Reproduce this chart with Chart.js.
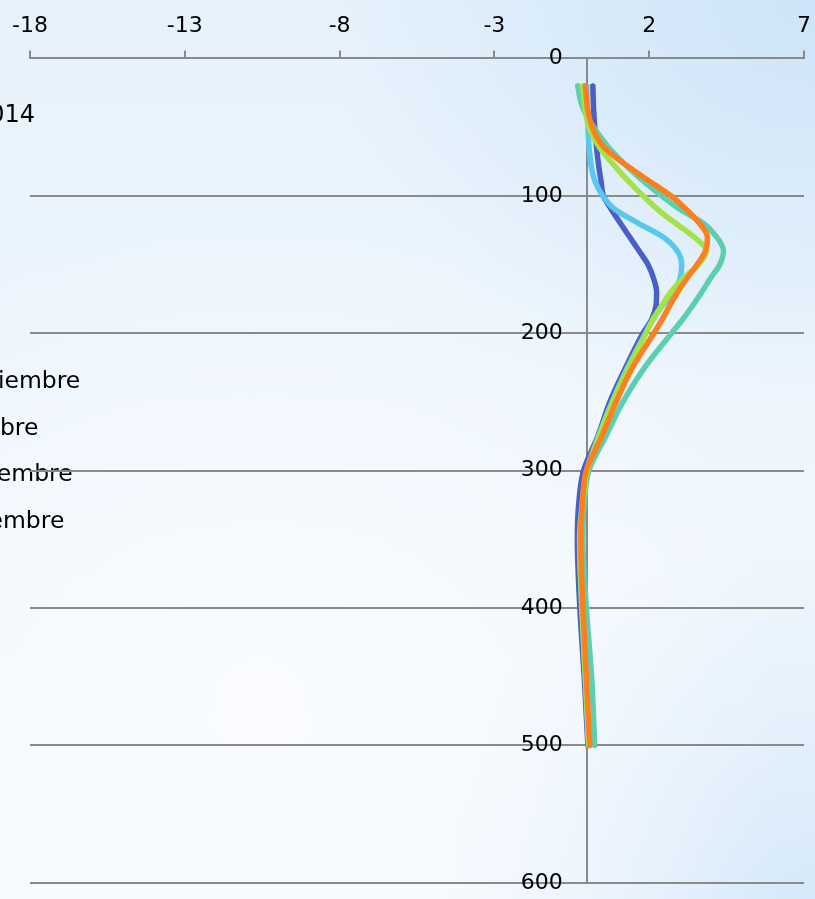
<!DOCTYPE html>
<html>
<head>
<meta charset="utf-8">
<script src="https://cdn.jsdelivr.net/npm/chart.js@4/dist/chart.umd.min.js"></script>
<style>
  html, body { margin: 0; padding: 0; width: 815px; height: 899px; overflow: hidden; }
  body {
    background:
      radial-gradient(ellipse 65% 55% at 32% 78%, rgba(250,252,255,0.95) 0%, rgba(250,252,255,0) 100%),
      radial-gradient(ellipse 60% 45% at 100% 0%, rgba(205,228,248,1) 0%, rgba(205,228,248,0) 100%),
      radial-gradient(ellipse 50% 40% at 100% 100%, rgba(214,233,250,1) 0%, rgba(214,233,250,0) 100%),
      linear-gradient(180deg, #e6f2fc 0%, #eef6fd 45%, #f6fafe 100%);
  }
  canvas { display: block; }
</style>
</head>
<body>
<canvas id="chart" width="815" height="899"></canvas>
<script>
// ---- data ----
const depths = [20, 35, 50, 65, 80, 90, 100, 110, 120, 130, 140, 150, 160, 170, 180, 190, 200, 225, 250, 275, 300, 325, 350, 400, 450, 500];

const seriesNames = ["Agosto", "Septiembre", "Octubre", "Noviembre", "Diciembre"];

const valuesAgosto     = [0.18, 0.20, 0.24, 0.30, 0.38, 0.45, 0.52, 0.78, 1.07, 1.37, 1.67, 1.96, 2.14, 2.24, 2.22, 2.08, 1.80, 1.24, 0.73, 0.34, -0.12, -0.28, -0.32, -0.24, -0.10, 0.02];
const valuesSeptiembre = [-0.02, 0.00, 0.02, 0.06, 0.14, 0.26, 0.50, 0.90, 1.65, 2.45, 2.90, 3.05, 3.00, 2.80, 2.42, 2.12, 1.88, 1.30, 0.80, 0.36, -0.02, -0.17, -0.25, -0.18, -0.07, 0.04];
const valuesOctubre    = [-0.15, -0.08, 0.05, 0.40, 0.95, 1.36, 1.80, 2.28, 2.85, 3.45, 3.85, 3.60, 3.10, 2.70, 2.40, 2.12, 1.90, 1.33, 0.82, 0.38, 0.00, -0.15, -0.24, -0.17, -0.06, 0.05];
const valuesNoviembre  = [-0.31, -0.16, 0.20, 0.70, 1.35, 1.85, 2.40, 3.00, 3.75, 4.18, 4.40, 4.28, 3.98, 3.70, 3.40, 3.08, 2.72, 1.85, 1.15, 0.60, 0.05, -0.10, -0.14, -0.03, 0.14, 0.24];
const valuesDiciembre  = [-0.06, 0.00, 0.16, 0.55, 1.40, 2.05, 2.70, 3.20, 3.62, 3.88, 3.82, 3.55, 3.22, 2.92, 2.66, 2.42, 2.15, 1.46, 0.93, 0.47, -0.03, -0.16, -0.21, -0.14, -0.03, 0.08];

const xTickValues = [-18, -13, -8, -3, 2, 7];
const legendNames = ["Septiembre", "Octubre", "Noviembre", "Diciembre"];
const titleText = "2014";

// ---- styling ----
const colors = ["#4a5fc6", "#58c8f0", "#a4e24a", "#5ccfae", "#fd7f1e"];
const drawOrder = [4, 2, 1, 3, 0];
const allValues = [valuesAgosto, valuesSeptiembre, valuesOctubre, valuesNoviembre, valuesDiciembre];
const gridColor = "#8a8a8a";

Chart.defaults.font.family = "'DejaVu Sans', sans-serif";
Chart.defaults.font.size = 22;
Chart.defaults.color = "#000";

const datasets = allValues.map((vals, i) => ({
  label: seriesNames[i],
  data: vals.map((v, k) => ({ x: v, y: depths[k] })),
  borderColor: colors[i],
  backgroundColor: colors[i],
  borderWidth: 5.5,
  borderCapStyle: "round",
  borderJoinStyle: "round",
  pointRadius: 0,
  pointHoverRadius: 0,
  cubicInterpolationMode: "monotone",
  fill: false,
  order: drawOrder[i],
  xAxisID: "x",
  yAxisID: "y"
}));

const sideTextPlugin = {
  id: "sideText",
  beforeDraw(chart) {
    const ctx = chart.ctx;
    ctx.save();
    ctx.fillStyle = "#000";
    ctx.font = "23.5px 'DejaVu Sans', sans-serif";
    ctx.textAlign = "left";
    ctx.textBaseline = "alphabetic";
    legendNames.forEach((name, i) => ctx.fillText(name, -55.6, 388 + i * 46.7));
    ctx.font = "24px 'DejaVu Sans', sans-serif";
    ctx.textAlign = "right";
    ctx.fillText(titleText, 35, 122);
    ctx.restore();
  }
};

new Chart(document.getElementById("chart"), {
  type: "line",
  data: { datasets },
  plugins: [sideTextPlugin],
  options: {
    indexAxis: "y",
    responsive: false,
    animation: false,
    events: [],
    layout: { padding: { left: 30, right: 11, top: 2, bottom: 14 } },
    plugins: { legend: { display: false }, tooltip: { enabled: false } },
    scales: {
      x: {
        type: "linear",
        axis: "x",
        position: "top",
        min: -18,
        max: 7,
        afterBuildTicks: (scale) => { scale.ticks = xTickValues.map(v => ({ value: v })); },
        afterFit: (scale) => { scale.paddingLeft = 0; scale.paddingRight = 0; },
        grid: { display: true, drawOnChartArea: false, drawTicks: true, tickLength: 8, color: gridColor, lineWidth: 2 },
        border: { display: true, color: gridColor, width: 2 },
        ticks: { padding: 11, maxRotation: 0, autoSkip: false, color: "#000" }
      },
      y: {
        type: "linear",
        axis: "y",
        position: { x: 0 },
        reverse: true,
        min: 0,
        max: 600,
        ticks: { display: false, stepSize: 100 },
        grid: { display: true, drawTicks: false, color: gridColor, lineWidth: 2 },
        border: { display: true, color: gridColor, width: 2 }
      },
      yLabels: {
        type: "linear",
        axis: "y",
        position: { x: -0.79 },
        reverse: true,
        min: 0,
        max: 600,
        ticks: { display: true, stepSize: 100, color: "#000" },
        grid: { display: false, drawTicks: false },
        border: { display: false }
      }
    }
  }
});
</script>
</body>
</html>
